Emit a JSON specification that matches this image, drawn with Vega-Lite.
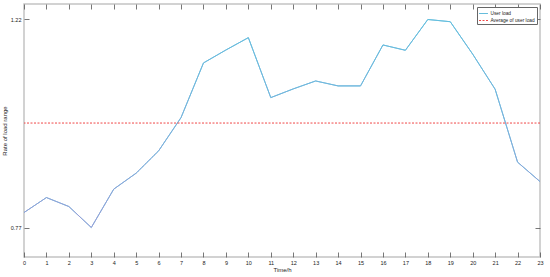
{
  "$schema": "https://vega.github.io/schema/vega-lite/v6.json",
  "autosize": "none",
  "width": 516,
  "height": 253,
  "padding": {"left": 24, "top": 4, "right": 10, "bottom": 20},
  "background": "white",
  "config": {
    "font": "Liberation Sans",
    "view": {"stroke": "#c4c4c4", "strokeWidth": 1.5},
    "axis": {
      "domain": false,
      "grid": false,
      "tickColor": "#555555",
      "tickWidth": 0.8,
      "labelFontSize": 5.5,
      "labelColor": "#222222",
      "titleFontSize": 6,
      "titleFontWeight": "normal",
      "titleColor": "#222222"
    },
    "legend": {
      "orient": "top-right",
      "offset": 3,
      "padding": 1.5,
      "strokeColor": "#666666",
      "fillColor": "white",
      "labelFontSize": 4.8,
      "labelColor": "#222222",
      "symbolSize": 80,
      "symbolStrokeWidth": 1,
      "symbolOpacity": 1,
      "rowPadding": 0,
      "labelOffset": 2,
      "cornerRadius": 0
    }
  },
  "datasets": {
    "load": [
      {"hour": 0, "rate": 0.8024},
      {"hour": 1, "rate": 0.8348},
      {"hour": 2, "rate": 0.8154},
      {"hour": 3, "rate": 0.77},
      {"hour": 4, "rate": 0.853},
      {"hour": 5, "rate": 0.8876},
      {"hour": 6, "rate": 0.9358},
      {"hour": 7, "rate": 1.0078},
      {"hour": 8, "rate": 1.126},
      {"hour": 9, "rate": 1.154},
      {"hour": 10, "rate": 1.1807},
      {"hour": 11, "rate": 1.051},
      {"hour": 12, "rate": 1.0698},
      {"hour": 13, "rate": 1.087},
      {"hour": 14, "rate": 1.0763},
      {"hour": 15, "rate": 1.0763},
      {"hour": 16, "rate": 1.1649},
      {"hour": 17, "rate": 1.1534},
      {"hour": 18, "rate": 1.22},
      {"hour": 19, "rate": 1.2152},
      {"hour": 20, "rate": 1.145},
      {"hour": 21, "rate": 1.0691},
      {"hour": 22, "rate": 0.9114},
      {"hour": 23, "rate": 0.8694}
    ],
    "avg": [{"avg": 0.996}]
  },
  "layer": [
    {
      "data": {"name": "load"},
      "mark": {"type": "line", "strokeWidth": 1},
      "encoding": {
        "x": {
          "field": "hour", "type": "quantitative",
          "scale": {"domain": [0, 23], "nice": false, "zero": false},
          "axis": {"orient": "bottom", "values": [0,1,2,3,4,5,6,7,8,9,10,11,12,13,14,15,16,17,18,19,20,21,22,23], "tickSize": -5, "labelPadding": 8, "title": "Time/h", "titlePadding": 1, "labelFlush": false}
        },
        "y": {
          "field": "rate", "type": "quantitative",
          "scale": {"domain": [0.7062, 1.2535], "nice": false, "zero": false},
          "axis": {"orient": "left", "values": [0.77, 1.22], "format": ".2f", "tickSize": -5, "labelPadding": 8, "title": "Rate of load range", "titlePadding": 3}
        },
        "color": {
          "datum": "User load",
          "scale": {"domain": ["User load", "Average of user load"], "range": ["#64bcdc", "#f04848"]},
          "legend": {"title": null}
        },
        "strokeDash": {
          "datum": "User load",
          "scale": {"domain": ["User load", "Average of user load"], "range": [[1, 0], [2, 1.5]]},
          "legend": {"title": null}
        }
      }
    },
    {
      "data": {"name": "load"},
      "mark": {
        "type": "line",
        "strokeWidth": 1,
        "color": {
          "gradient": "linear",
          "x1": 0, "y1": 0, "x2": 0, "y2": 1,
          "stops": [
            {"offset": 0, "color": "#62bede"},
            {"offset": 0.5, "color": "#78b0dc"},
            {"offset": 1, "color": "#9a9ad6"}
          ]
        }
      },
      "encoding": {
        "x": {"field": "hour", "type": "quantitative", "axis": {"orient": "top", "values": [0,1,2,3,4,5,6,7,8,9,10,11,12,13,14,15,16,17,18,19,20,21,22,23], "labels": false, "tickSize": -5, "title": null}},
        "y": {"field": "rate", "type": "quantitative", "axis": {"orient": "right", "values": [0.77, 1.22], "labels": false, "tickSize": -5, "title": null}}
      }
    },
    {
      "data": {"name": "avg"},
      "mark": {"type": "rule", "strokeWidth": 1},
      "encoding": {
        "y": {"field": "avg", "type": "quantitative", "axis": null},
        "color": {"datum": "Average of user load"},
        "strokeDash": {"datum": "Average of user load"}
      }
    }
  ],
  "resolve": {"axis": {"x": "independent", "y": "independent"}}
}
